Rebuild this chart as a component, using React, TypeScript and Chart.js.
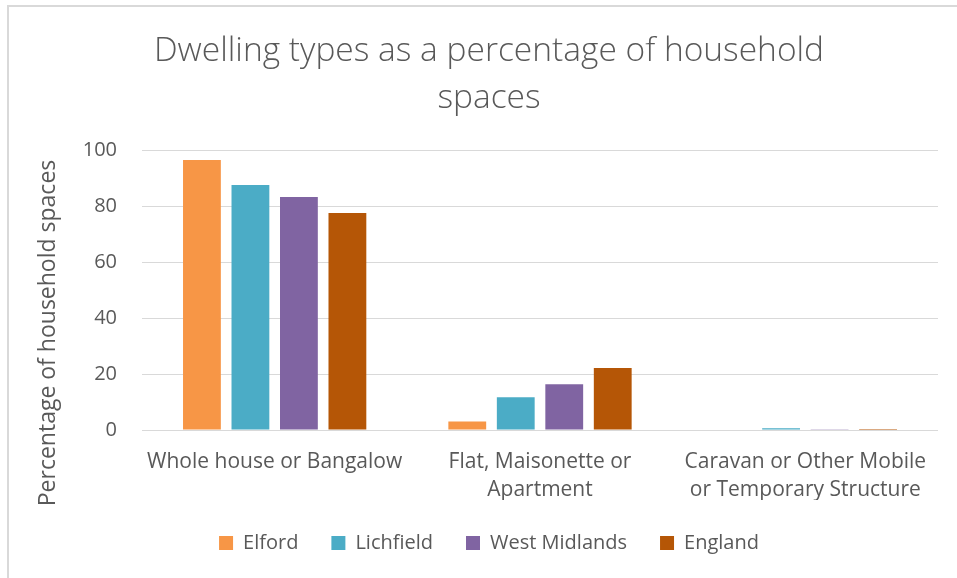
import React, { useEffect, useRef } from "react";
import { Chart, registerables } from "chart.js";

Chart.register(...registerables);

const categories: string[][] = [
  ["Whole house or Bangalow"],
  ["Flat, Maisonette or", "Apartment"],
  ["Caravan or Other Mobile", "or Temporary Structure"],
];
const seriesNames = ["Elford", "Lichfield", "West Midlands", "England"];
const elford = [96.4, 3.0, 0.2];
const lichfield = [87.5, 11.7, 0.6];
const westMidlands = [83.2, 16.3, 0.3];
const england = [77.5, 22.1, 0.4];
const seriesColors = ["#F79646", "#4BACC6", "#8064A2", "#B55606"];
const titleLines = ["Dwelling types as a percentage of household", "spaces"];
const yAxisTitle = "Percentage of household spaces";
const yMin = 0;
const yMax = 100;
const yStep = 20;

const FONT = "'Open Sans', 'DejaVu Sans', sans-serif";
const TEXT = "#595959";
const GRID = "#D9D9D9";

const borderPlugin = {
  id: "frameBorder",
  beforeDraw(chart: any) {
    const ctx = chart.ctx;
    ctx.save();
    ctx.fillStyle = "#FFFFFF";
    ctx.fillRect(0, 0, chart.width, chart.height);
    ctx.strokeStyle = GRID;
    ctx.lineWidth = 2;
    ctx.beginPath();
    ctx.moveTo(8, chart.height);
    ctx.lineTo(8, 6);
    ctx.lineTo(chart.width, 6);
    ctx.stroke();
    ctx.restore();
  },
};

const axisTitlePlugin = {
  id: "yAxisTitleText",
  afterDraw(chart: any) {
    const ctx = chart.ctx;
    ctx.save();
    ctx.translate(48, 333);
    ctx.rotate(-Math.PI / 2);
    ctx.fillStyle = TEXT;
    ctx.font = `23px ${FONT}`;
    ctx.textAlign = "center";
    ctx.textBaseline = "middle";
    ctx.fillText(yAxisTitle, 0, 0);
    ctx.restore();
  },
};

export default function App() {
  const ref = useRef<HTMLCanvasElement | null>(null);

  useEffect(() => {
    if (!ref.current) return;
    const values = [elford, lichfield, westMidlands, england];
    const chart = new Chart(ref.current, {
      type: "bar",
      data: {
        labels: categories,
        datasets: seriesNames.map((name, i) => ({
          label: name,
          data: values[i],
          backgroundColor: seriesColors[i],
          borderWidth: 0,
          categoryPercentage: 0.731,
          barPercentage: 0.78,
        })),
      },
      options: {
        responsive: false,
        animation: false,
        layout: { padding: { left: 40, right: 19, top: 0, bottom: 15 } },
        plugins: {
          title: {
            display: true,
            text: titleLines,
            color: TEXT,
            font: { family: FONT, size: 33.5, weight: "300", lineHeight: 1.4 },
            padding: { top: 28, bottom: 28.2 },
          },
          legend: {
            position: "bottom",
            labels: {
              color: TEXT,
              font: { family: FONT, size: 20 },
              boxWidth: 14,
              boxHeight: 14,
              padding: 33,
            },
          },
          tooltip: { enabled: false },
        },
        scales: {
          x: {
            grid: { display: false, drawTicks: false },
            border: { display: false },
            ticks: {
              color: TEXT,
              font: { family: FONT, size: 21, lineHeight: 1.34 },
              padding: 18,
              maxRotation: 0,
              autoSkip: false,
            },
            afterFit(scale: any) {
              scale.height = 70;
            },
          },
          y: {
            min: yMin,
            max: yMax,
            grid: { color: GRID, lineWidth: 1, drawTicks: false },
            border: { display: false },
            ticks: {
              stepSize: yStep,
              color: TEXT,
              font: { family: FONT, size: 20 },
              padding: 25,
            },
            title: { display: false },
            afterFit(scale: any) {
              scale.width = 102;
            },
          },
        },
      },
      plugins: [borderPlugin, axisTitlePlugin],
    });
    return () => chart.destroy();
  }, []);

  return (
    <canvas
      ref={ref}
      width={957}
      height={578}
      style={{ position: "fixed", left: 0, top: 0, width: 957, height: 578 }}
    />
  );
}
